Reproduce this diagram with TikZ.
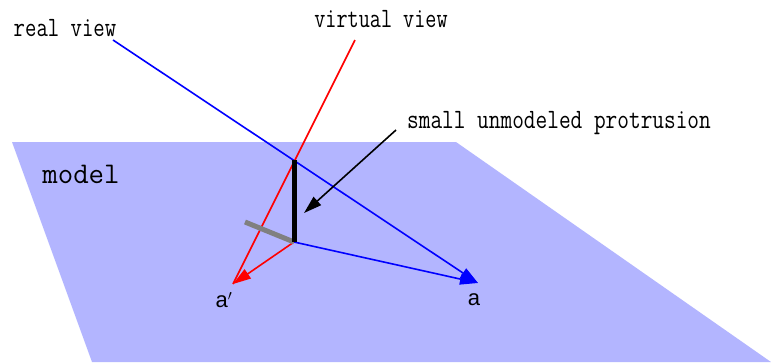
\documentclass[tikz,border=0pt]{standalone}
\usepackage{graphicx}
\usepackage{fontspec}
\usepackage{tikz}
\usetikzlibrary{arrows.meta, calc}
\newfontfamily\pointfont{Liberation Sans}
\definecolor{modelblue}{HTML}{B3B5FF}

\begin{document}
\begin{tikzpicture}[
  x=1pt, y=-1pt,
  lbl/.style={inner sep=0pt, font=\ttfamily\fontsize{28}{30}\selectfont},
  pt/.style={inner sep=0pt, font=\pointfont\fontsize{22}{24}\selectfont},
  ray/.style={line width=1.6pt},
  arr/.style={-{Triangle[length=18pt, width=11pt]}, line width=1.6pt},
]
  \useasboundingbox (0,0) rectangle (771,362);
  % model plane
  \fill[modelblue] (12,142) -- (456,142) -- (771,362) -- (92,362) -- cycle;
  \node[lbl, font=\ttfamily\fontsize{30}{32}\selectfont] (model) at (81,174) {model};

  % key points
  \coordinate (realeye) at (113,40);
  \coordinate (virteye) at (355,40);
  \coordinate (tip) at (294,160);
  \coordinate (base) at (294,242);
  \coordinate (stub) at (245,222);
  \coordinate (pa) at (478,283);
  \coordinate (pav) at (233,284);
  \coordinate (ptr) at (396,130);
  \coordinate (ptrend) at (304,213);

  % labels
  \node[lbl] (real) at (65,28) {\scalebox{0.79}[1]{real view}};
  \node[lbl] (virt) at (381,19) {\scalebox{0.77}[1]{virtual view}};
  \node[lbl] (prot) at (559,123) {\scalebox{0.81}[1]{small unmodeled protrusion}};
  \node[pt] (a) at (474,300) {a};
  \node[pt] (av) at (224,300) {a$'$};

  % rays
  \draw[arr, blue] (realeye) -- (pa);
  \draw[ray, red] (virteye) -- (pav);
  \draw[arr, red] (base) -- (pav);
  \draw[arr, blue] (base) -- (pa);
  \draw[line width=5pt, gray] (stub) -- (base);
  \draw[line width=5pt, black] (tip) -- (base);
  \draw[arr, black] (ptr) -- (ptrend);
\end{tikzpicture}
\end{document}
